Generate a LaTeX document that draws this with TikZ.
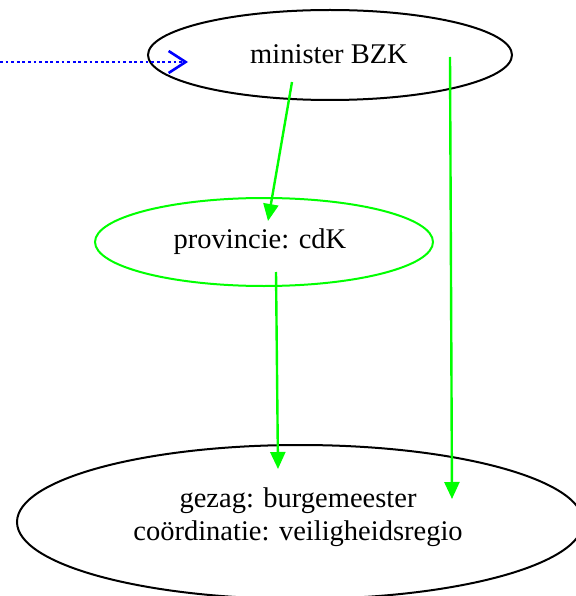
\documentclass[tikz,border=0pt]{standalone}
\usepackage{fontspec}
\setmainfont{Liberation Serif}
\usetikzlibrary{shapes.geometric,arrows.meta}
\definecolor{lgreen}{RGB}{0,255,0}
\definecolor{lblue}{RGB}{0,0,255}
\begin{document}
\begin{tikzpicture}[x=1pt,y=-1pt,
  oval/.style={ellipse,draw,line width=2pt,inner sep=0pt},
  lbl/.style={font=\fontsize{28.5}{33}\selectfont,align=center,inner sep=0pt},
  greenarrow/.style={draw=lgreen,line width=2.4pt,-{Triangle[width=15pt,length=17pt]},lgreen},
  bluearrow/.style={draw=lblue,line width=2.6pt,dash pattern=on 2.8pt off 2.8pt,
    -{Straight Barb[length=17pt,width=22pt,line width=2.6pt]}}]
\useasboundingbox (0,0) rectangle (575,596);
\node[oval,minimum width=364pt,minimum height=90pt] (bzk) at (330,55) {};
\node[lbl] (bzkt) at (329,54) {minister BZK};
\node[oval,draw=lgreen,minimum width=338pt,minimum height=88pt] (prov) at (264,242) {};
\node[lbl] (provt) at (260,242) {provincie: cdK};
\node[oval,minimum width=566pt,minimum height=154pt] (regio) at (300,522) {};
\node[lbl] (regiot) at (298,517) {gezag: burgemeester\\coördinatie: veiligheidsregio};
\coordinate (src) at (0,62);
\coordinate (bzkin) at (188,62);
\coordinate (bzkout) at (292,82);
\coordinate (provin) at (268,221);
\coordinate (provout) at (276,272);
\coordinate (regioin) at (278,469);
\coordinate (bzkout2) at (450,57);
\coordinate (regioin2) at (452,499);
\draw[bluearrow] (src) -- (bzkin);
\draw[greenarrow] (bzkout) -- (provin);
\draw[greenarrow] (provout) -- (regioin);
\draw[greenarrow] (bzkout2) -- (regioin2);
\end{tikzpicture}
\end{document}
